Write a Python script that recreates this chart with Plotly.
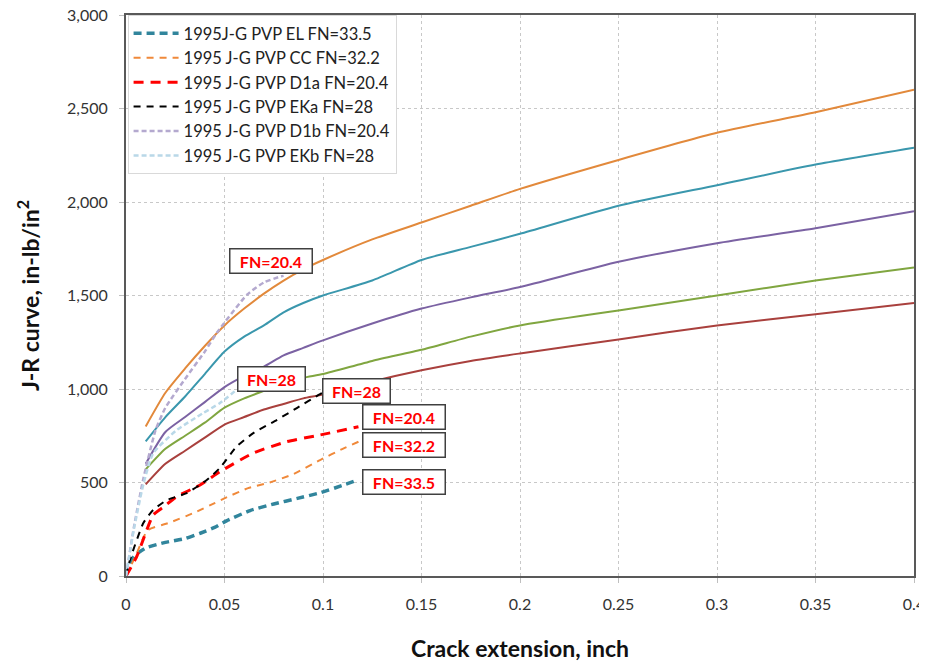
import plotly.graph_objects as go

# ---- solid reference curves (no legend) ----
x_solid = [0.01, 0.02, 0.03, 0.04, 0.05, 0.06, 0.07, 0.08, 0.09, 0.10, 0.125, 0.15, 0.175, 0.20, 0.25, 0.30, 0.35, 0.40]
orange_solid = [800, 980, 1110, 1230, 1340, 1430, 1510, 1580, 1640, 1690, 1800, 1890, 1980, 2070, 2225, 2370, 2480, 2600]
teal_solid = [720, 850, 960, 1080, 1200, 1280, 1340, 1410, 1460, 1500, 1580, 1690, 1760, 1830, 1980, 2090, 2200, 2290]
purple_solid = [600, 770, 850, 930, 1010, 1070, 1120, 1180, 1220, 1260, 1350, 1430, 1490, 1545, 1680, 1780, 1860, 1950]
green_solid = [570, 680, 750, 820, 900, 950, 990, 1030, 1060, 1080, 1150, 1210, 1280, 1340, 1420, 1500, 1580, 1650]
red_solid = [490, 600, 670, 740, 810, 850, 890, 920, 950, 970, 1040, 1100, 1150, 1190, 1265, 1340, 1400, 1460]

# ---- 1995 J-G PVP dashed data ----
el_x = [0, 0.004, 0.01, 0.02, 0.03, 0.038, 0.045, 0.051, 0.063, 0.075, 0.087, 0.0985, 0.11, 0.118]
el_y = [0, 105, 150, 180, 200, 230, 260, 295, 350, 385, 415, 445, 485, 515]

cc_x = [0, 0.005, 0.011, 0.022, 0.035, 0.045, 0.051, 0.062, 0.073, 0.085, 0.0985, 0.11, 0.118]
cc_y = [0, 110, 245, 285, 340, 390, 420, 470, 500, 545, 620, 680, 718]

d1a_x = [0, 0.0054, 0.0138, 0.019, 0.0257, 0.0376, 0.0477, 0.0645, 0.0815, 0.0985, 0.118]
d1a_y = [0, 103, 326, 369, 424, 487, 558, 657, 718, 754, 798]

eka_x = [0, 0.002, 0.0088, 0.0138, 0.0207, 0.0308, 0.041, 0.0477, 0.056, 0.0646, 0.0765, 0.0867, 0.0985, 0.101]
eka_y = [0, 86, 283, 353, 406, 443, 513, 578, 691, 764, 834, 898, 973, 985]

d1b_x = [0, 0.004, 0.0088, 0.015, 0.02, 0.0308, 0.04, 0.046, 0.0613, 0.07, 0.078, 0.08]
d1b_y = [0, 260, 520, 780, 900, 1066, 1200, 1299, 1503, 1570, 1600, 1605]

ekb_x = [0, 0.004, 0.0088, 0.0138, 0.0257, 0.039, 0.0477, 0.056]
ekb_y = [0, 250, 490, 657, 780, 870, 925, 995]

# ---- annotation labels ----
ann_text = ["FN=20.4", "FN=28", "FN=28", "FN=20.4", "FN=32.2", "FN=33.5"]
ann_x = [0.0523, 0.0564, 0.0995, 0.1198, 0.1198, 0.1198]
ann_y = [1682, 1056, 992, 848, 698, 505]
ann_w = [77, 62, 62, 77, 77, 77]

x_ticks = [0, 0.05, 0.1, 0.15, 0.2, 0.25, 0.3, 0.35, 0.4]
x_tick_labels = ["0", "0.05", "0.1", "0.15", "0.2", "0.25", "0.3", "0.35", "0.4"]

FONT = "Lato, Open Sans, sans-serif"

fig = go.Figure()

solid_specs = [
    (orange_solid, "#E2893B"),
    (teal_solid, "#3A97AD"),
    (purple_solid, "#7B62A3"),
    (green_solid, "#80A640"),
    (red_solid, "#A9403D"),
]
for ys, col in solid_specs:
    fig.add_trace(go.Scatter(x=x_solid, y=ys, mode="lines", showlegend=False,
                             line=dict(color=col, width=2, shape="spline", smoothing=0.6),
                             hoverinfo="skip"))

dashed_specs = [
    ("1995J-G PVP EL FN=33.5", el_x, el_y, "#31859C", 3.5, "8px,5px"),
    ("1995 J-G PVP CC FN=32.2", cc_x, cc_y, "#F0893A", 2, "7px,6px"),
    ("1995 J-G PVP D1a FN=20.4", d1a_x, d1a_y, "#FF0000", 3, "10px,7px"),
    ("1995 J-G PVP EKa FN=28", eka_x, eka_y, "#000000", 2, "7px,6px"),
    ("1995 J-G PVP D1b FN=20.4", d1b_x, d1b_y, "#B4A9CF", 2.5, "5px,3px"),
    ("1995 J-G PVP EKb FN=28", ekb_x, ekb_y, "#B9D8E8", 2.5, "5px,3px"),
]
for name, xs, ys, col, w, dash in dashed_specs:
    fig.add_trace(go.Scatter(x=xs, y=ys, mode="lines", name=name,
                             line=dict(color=col, width=w, dash=dash, shape="spline", smoothing=0.5)))

for t, ax_, ay_, w_ in zip(ann_text, ann_x, ann_y, ann_w):
    fig.add_annotation(x=ax_, y=ay_, xref="x", yref="y", text="<b>" + t + "</b>",
                       showarrow=False, xanchor="left", yanchor="middle", width=w_, align="center",
                       font=dict(family=FONT, size=16, color="#FF0000"),
                       bgcolor="white", bordercolor="#404040", borderwidth=1.5, borderpad=2)

grid_col = "#C8C8C8"
fig.update_xaxes(range=[0, 0.4], tickvals=x_ticks, ticktext=x_tick_labels,
                 showgrid=True, gridcolor=grid_col, griddash="dot", gridwidth=1,
                 showline=True, linecolor="#595959", linewidth=2, mirror=True,
                 ticks="outside", ticklen=5, tickcolor="#BFBFBF", ticklabelstandoff=8,
                 ticklabeloverflow="allow",
                 tickfont=dict(family=FONT, size=16, color="#333333"),
                 title=dict(text="<b>Crack extension, inch</b>", standoff=35,
                            font=dict(family=FONT, size=23, color="#111111")),
                 zeroline=False, automargin=False)
fig.update_yaxes(range=[0, 3000], dtick=500, tickformat=",d",
                 showgrid=True, gridcolor=grid_col, griddash="dot", gridwidth=1,
                 showline=True, linecolor="#595959", linewidth=2, mirror=True,
                 ticks="outside", ticklen=5, tickcolor="#BFBFBF", ticklabelstandoff=8,
                 ticklabeloverflow="allow",
                 tickfont=dict(family=FONT, size=16, color="#333333"),
                 title=dict(text="<b>J-R curve, in-lb/in<sup>2</sup></b>", standoff=21,
                            font=dict(family=FONT, size=23, color="#111111")),
                 zeroline=False, automargin=False)

fig.update_layout(
    width=919, height=654,
    margin=dict(l=118, r=13, t=7, b=86),
    plot_bgcolor="white", paper_bgcolor="white",
    legend=dict(x=0.002, y=1.0, xanchor="left", yanchor="top",
                bgcolor="white", bordercolor="#D9D9D9", borderwidth=1,
                font=dict(family=FONT, size=16.5, color="#222222"),
                tracegroupgap=0, itemwidth=45),
)

fig.write_html("out.html")
